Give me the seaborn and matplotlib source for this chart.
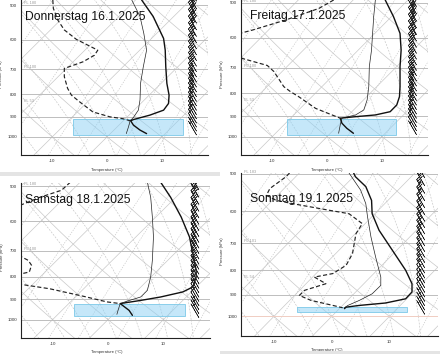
import numpy as np
import matplotlib
matplotlib.use("Agg")
import matplotlib.pyplot as plt
from matplotlib.patches import Rectangle
from matplotlib.ticker import FixedLocator, FixedFormatter, NullLocator
import seaborn as sns

sns.set_theme(style="white")
plt.rcParams['font.family'] = ['Liberation Sans', 'DejaVu Sans']

# ---------------- data (pressure hPa, plotted temperature position degC) ----------------
titles = ["Donnerstag 16.1.2025", "Freitag 17.1.2025", "Samstag 18.1.2025", "Sonntag 19.1.2025"]
pressure_ticks = [500, 600, 700, 800, 900, 1000]
temp_ticks = [-10, 0, 10]

# Thursday
thu_temp_p = [487, 531, 596, 634, 692, 755, 803, 839, 869, 892, 913, 919, 940, 965, 983]
thu_temp_x = [6.3, 8.4, 10.3, 10.6, 10.7, 10.9, 11.3, 11.2, 10.3, 7.8, 4.8, 4.3, 4.8, 6.0, 7.2]
thu_thin_p = [487, 531, 581, 634, 692, 755, 824, 869, 903, 919, 949, 983]
thu_thin_x = [4.5, 6.0, 6.7, 7.2, 6.6, 6.1, 6.0, 5.7, 4.8, 4.2, 3.9, 3.5]
thu_dew_p = [487, 509, 541, 570, 599, 634, 651, 674, 698, 729, 775, 803, 832, 877, 900, 909, 919]
thu_dew_x = [-9.9, -9.8, -9.0, -7.8, -5.6, -1.7, -2.3, -4.4, -7.8, -7.8, -7.2, -6.5, -5.0, -2.6, 0.5, 2.9, 4.2]
thu_box = [-6.2, 13.9, 910, 990]
thu_wind = [5, 5, 10, 10, 15, 15, 15, 20, 20, 20, 25, 25, 25, 25, 30, 30, 30, 30, 35, 35, 35, 40, 40, 40, 45, 45]
thu_fl = ["FL 180", "FL 100", "FL 53"]

# Friday
fri_temp_p = [493, 537, 586, 639, 696, 772, 813, 849, 879, 894, 902, 909, 933, 958, 983]
fri_temp_x = [10.6, 12.1, 13.3, 13.5, 13.3, 13.3, 13.2, 12.7, 11.5, 8.8, 5.2, 2.4, 2.7, 3.6, 4.8]
fri_thin_p = [493, 537, 586, 639, 696, 772, 827, 871, 894, 909, 941, 983]
fri_thin_x = [8.8, 8.5, 8.3, 8.1, 7.7, 7.6, 7.3, 6.7, 5.2, 2.7, 2.4, 2.1]
fri_dew_p = [493, 515, 547, 576, 586, 617, 663, 667, 692, 714, 772, 792, 813, 864, 894, 909]
fri_dew_x = [1.2, -1.5, -7.6, -13.6, -15.9, -19.7, -15.9, -15.5, -10.9, -9.7, -7.9, -6.7, -5.2, -2.1, 0.9, 2.4]
fri_box = [-7.4, 12.6, 913, 991]
fri_wind = [5, 10, 10, 15, 15, 20, 20, 20, 25, 25, 25, 30, 30, 30, 30, 35, 35, 35, 40, 40, 40, 40, 45, 45, 45, 50]
fri_fl = ["FL 180", "FL 100", "FL 53"]

# Saturday
sat_temp_p = [490, 530, 587, 651, 710, 774, 801, 844, 866, 889, 905, 920, 953, 978]
sat_temp_x = [9.5, 11.3, 13.2, 14.7, 15.3, 15.9, 15.9, 15.3, 13.5, 9.5, 5.9, 2.2, 3.8, 4.4]
sat_thin_p = [490, 530, 587, 651, 735, 801, 859, 889, 908, 920, 945, 973]
sat_thin_x = [7.1, 7.7, 8.0, 8.2, 8.0, 7.7, 7.1, 5.9, 3.5, 2.2, 1.9, 1.6]
sat_dew_p = [490, 511, 530, 552, 600, 700, 722, 735, 754, 781, 788, 810, 833, 852, 886, 912, 920]
sat_dew_x = [-6.8, -8.4, -12.3, -15.8, -22.0, -22.0, -15.6, -14.4, -13.8, -14.2, -15.6, -20.0, -15.6, -10.5, -4.4, -0.2, 2.2]
sat_box = [-6.2, 13.8, 923, 981]
sat_wind = [5, 5, 5, 10, 10, 10, 15, 15, 15, 15, 20, 20, 20, 20, 25, 25, 25, 25, 30, 30, 30, 30, 30, 35, 35, 35]
sat_fl = ["FL 180", "FL 100", ""]

# Sunday
sun_temp_p = [498, 507, 532, 569, 607, 658, 725, 799, 853, 888, 918, 937, 948, 956, 963]
sun_temp_x = [3.8, 4.1, 5.9, 6.9, 7.0, 8.2, 10.5, 12.8, 13.9, 13.9, 12.8, 9.3, 4.8, 2.5, 2.2]
sun_thin_p = [498, 541, 578, 616, 680, 749, 826, 860, 896, 925, 948, 959]
sun_thin_x = [3.0, 5.0, 5.9, 6.2, 6.8, 7.6, 8.5, 8.5, 7.0, 4.8, 2.8, 2.2]
sun_dew_p = [498, 507, 537, 555, 569, 580, 597, 607, 637, 669, 702, 737, 780, 812, 826, 853, 881, 903, 925, 948, 959]
sun_dew_x = [-7.3, -7.9, -10.7, -11.3, -9.6, -6.1, -0.4, 3.0, 5.3, 4.2, 3.9, 3.6, 2.5, 0.2, -3.0, -1.0, -4.7, -5.6, -3.6, 0.2, 1.9]
sun_box = [-6.0, 13.1, 956, 977]
sun_wind = [5, 5, 5, 5, 10, 10, 10, 10, 10, 15, 15, 15, 15, 15, 15, 20, 20, 20, 20, 20, 20, 25, 25, 25, 25, 25]
sun_fl = ["FL 183", "FL 101", "FL 54"]

wind_levels = [990, 970, 950, 930, 910, 890, 870, 850, 830, 810, 790, 770, 750,
               730, 710, 690, 670, 650, 630, 610, 590, 570, 550, 530, 510, 490]
fl_levels = [500, 700, 835]

# ---------------- layout ----------------
W, H = 440, 354
fig = plt.figure(figsize=(W / 100, H / 100), dpi=100)

panels = [
    dict(title=titles[0], tp=thu_temp_p, tx=thu_temp_x, wp=thu_thin_p, wx=thu_thin_x,
         dp=thu_dew_p, dx=thu_dew_x, box=thu_box, wind=thu_wind, fl=thu_fl,
         rect=(21, 0, 208, 155), ptop=487, barb_x=16.3, txy=(25, 17), pink=False),
    dict(title=titles[1], tp=fri_temp_p, tx=fri_temp_x, wp=fri_thin_p, wx=fri_thin_x,
         dp=fri_dew_p, dx=fri_dew_x, box=fri_box, wind=fri_wind, fl=fri_fl,
         rect=(241, 0, 428, 155), ptop=493, barb_x=16.3, txy=(250, 16), pink=False),
    dict(title=titles[2], tp=sat_temp_p, tx=sat_temp_x, wp=sat_thin_p, wx=sat_thin_x,
         dp=sat_dew_p, dx=sat_dew_x, box=sat_box, wind=sat_wind, fl=sat_fl,
         rect=(21, 183, 210, 338), ptop=492, barb_x=16.4, txy=(25, 200), pink=False),
    dict(title=titles[3], tp=sun_temp_p, tx=sun_temp_x, wp=sun_thin_p, wx=sun_thin_x,
         dp=sun_dew_p, dx=sun_dew_x, box=sun_box, wind=sun_wind, fl=sun_fl,
         rect=(241, 173, 438, 336), ptop=498, barb_x=16.1, txy=(250, 199), pink=True),
]

SKEW = 35.0
GRID_C = "#c9c9c9"
DASH_C = "#c4c4c4"
RD, CP, LV, EPS = 287.0, 1005.0, 2.5e6, 0.622


def skewx(tc, p):
    return tc + SKEW * np.log(1000.0 / p)


def rsat(tc, p):
    es = 6.112 * np.exp(17.67 * tc / (tc + 243.5))
    return EPS * es / (p - es)


def moist_branch(t0, p_end):
    ps = np.geomspace(1000.0, p_end, 90)
    T = t0 + 273.15
    out = [T]
    for i in range(1, len(ps)):
        r = rsat(T - 273.15, ps[i - 1])
        dT = (RD * T + LV * r) / (CP + LV ** 2 * r * EPS / (RD * T ** 2)) * np.log(ps[i] / ps[i - 1])
        T = T + dT
        out.append(T)
    return ps, np.array(out) - 273.15


def background(ax):
    pg = np.geomspace(1150, 440, 80)
    for t0 in range(-130, 60, 10):
        ax.plot(skewx(t0, pg), pg, color=GRID_C, lw=0.5, zorder=1)
    for th in range(-60, 120, 10):
        tk = (th + 273.15) * (pg / 1000.0) ** 0.2857
        ax.plot(skewx(tk - 273.15, pg), pg, color=GRID_C, lw=0.5, zorder=1)
    for t0 in range(-15, 40, 5):
        for pend in (440.0, 1150.0):
            ps, ts = moist_branch(t0, pend)
            ax.plot(skewx(ts, ps), ps, color=DASH_C, lw=0.45, ls=(0, (3, 2)), zorder=1)
    pm = np.geomspace(1150, 440, 40)
    for w in [0.4, 1, 2, 3, 5, 8, 12, 16, 20]:
        e = w * pm / (622.0 + w)
        le = np.log(e / 6.112)
        td = 243.5 * le / (17.67 - le)
        ax.plot(skewx(td, pm), pm, color=DASH_C, lw=0.45, ls=(0, (2, 2)), zorder=1)


for pn in panels:
    x0, y0, x1, y1 = pn["rect"]
    ax = fig.add_axes([x0 / W, 1 - y1 / H, (x1 - x0) / W, (y1 - y0) / H])
    ax.set_facecolor("white")
    ax.set_yscale("log")
    ax.set_ylim(1100, pn["ptop"])
    ax.set_xlim(-15.7, 18.4)
    background(ax)
    for pt in pressure_ticks:
        c = "#f0cdc2" if (pn["pink"] and pt == 1000) else "#bdbdbd"
        ax.axhline(pt, color=c, lw=0.7, zorder=1.5)

    bx0, bx1, bp0, bp1 = pn["box"]
    ax.add_patch(Rectangle((bx0, bp0), bx1 - bx0, bp1 - bp0, facecolor=(0.55, 0.82, 0.96, 0.5),
                           edgecolor="#7cc9e8", lw=0.6, zorder=2))

    sns.lineplot(x=pn["wx"], y=pn["wp"], sort=False, estimator=None, ax=ax, color="#222222", lw=0.5, zorder=4)
    sns.lineplot(x=pn["dx"], y=pn["dp"], sort=False, estimator=None, ax=ax, color="#222222", lw=0.85,
                 ls=(0, (3.5, 2)), zorder=4)
    sns.lineplot(x=pn["tx"], y=pn["tp"], sort=False, estimator=None, ax=ax, color="#111111", lw=1.0, zorder=5)

    ws = np.array(pn["wind"], dtype=float)
    ang = np.deg2rad(330.0)
    u = -ws * np.sin(ang)
    v = -ws * np.cos(ang)
    ax.barbs(np.full(len(ws), pn["barb_x"]), wind_levels, u, v, length=4.8, linewidth=0.4,
             color="#222222", zorder=6)

    for lab, lev in zip(pn["fl"], fl_levels):
        if lab:
            ax.text(-15.1, lev, lab, fontsize=2.8, color="#9a9a9a", va="bottom", ha="left", zorder=3)

    ax.yaxis.set_major_locator(FixedLocator(pressure_ticks))
    ax.yaxis.set_major_formatter(FixedFormatter([str(p) for p in pressure_ticks]))
    ax.yaxis.set_minor_locator(NullLocator())
    ax.set_xticks(temp_ticks)
    ax.set_xticklabels([str(t) for t in temp_ticks])
    ax.tick_params(axis="both", labelsize=3.2, length=0, pad=2.6, colors="#333333")
    ax.set_xlabel("Temperature (°C)", fontsize=3.0, color="#333333")
    ax.set_ylabel("Pressure (hPa)", fontsize=3.0, color="#333333")
    ax.xaxis.set_label_coords(86 / (x1 - x0), -12.5 / (y1 - y0))
    ax.yaxis.set_label_coords(-17.5 / (x1 - x0), 0.52)
    for s in ["top", "right"]:
        ax.spines[s].set_visible(False)
    for s in ["left", "bottom"]:
        ax.spines[s].set_color("#222222")
        ax.spines[s].set_linewidth(0.8)
    ax.grid(False)

    tx, ty = pn["txy"]
    fig.text(tx / W, 1 - ty / H, pn["title"], fontsize=8.7, color="#111111", ha="left", va="center", zorder=10)

fig.patches.append(Rectangle((0, 1 - 176 / H), 220 / W, 4 / H, transform=fig.transFigure,
                             facecolor="#e4e4e4", edgecolor="none", zorder=0))
fig.patches.append(Rectangle((220 / W, 0), 220 / W, 3 / H, transform=fig.transFigure,
                             facecolor="#e4e4e4", edgecolor="none", zorder=0))

fig.savefig("out.png", dpi=100)
